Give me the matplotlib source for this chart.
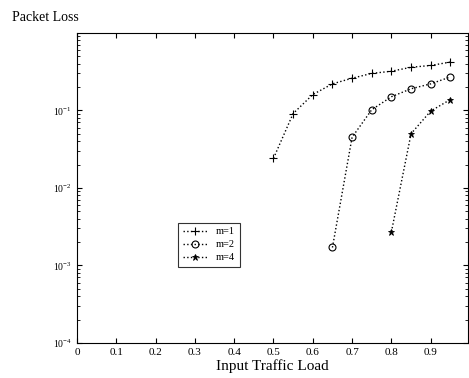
import matplotlib.pyplot as plt
import matplotlib.ticker as mticker

# data
load_m1 = [0.5, 0.55, 0.6, 0.65, 0.7, 0.75, 0.8, 0.85, 0.9, 0.95]
loss_m1 = [0.024, 0.091, 0.16, 0.22, 0.26, 0.30, 0.32, 0.36, 0.38, 0.42]

load_m2 = [0.65, 0.7, 0.75, 0.8, 0.85, 0.9, 0.95]
loss_m2 = [0.0017, 0.045, 0.102, 0.15, 0.19, 0.22, 0.27]

load_m4 = [0.8, 0.85, 0.9, 0.95]
loss_m4 = [0.0027, 0.050, 0.098, 0.138]

xticks = [0, 0.1, 0.2, 0.3, 0.4, 0.5, 0.6, 0.7, 0.8, 0.9]

plt.rcParams['font.family'] = ['Liberation Serif', 'DejaVu Serif']

fig = plt.figure(figsize=(4.69, 3.78), dpi=100)
ax = fig.add_axes([0.164, 0.093, 0.834, 0.82])

ax.semilogy(load_m1, loss_m1, ':', color='black', marker='+', ms=6, mew=0.8, lw=1, label='m=1')
ax.semilogy(load_m2, loss_m2, ':', color='black', marker='o', ms=5, mfc='none', mew=0.8, lw=1, label='m=2')
ax.semilogy(load_m4, loss_m4, ':', color='black', marker='*', ms=5, mew=0.6, lw=1, label='m=4')

ax.set_xlim(0, 0.995)
ax.set_ylim(1e-4, 1e0)
ax.set_xticks(xticks)
ax.set_xticklabels([f'{t:g}' for t in xticks], fontsize=8)
ax.set_yticks([1e-4, 1e-3, 1e-2, 1e-1])
ax.yaxis.set_major_formatter(mticker.LogFormatterSciNotation())
ax.yaxis.set_minor_locator(mticker.LogLocator(subs=range(2, 10)))
ax.yaxis.set_minor_formatter(mticker.NullFormatter())
ax.tick_params(which='both', direction='in', top=True, right=True, labelsize=7)
ax.tick_params(axis='x', labelsize=8)
for s in ax.spines.values():
    s.set_linewidth(0.8)

ax.set_xlabel('Input Traffic Load', fontsize=11, labelpad=2)
fig.text(0.025, 0.955, 'Packet Loss', fontsize=10, ha='left', va='center')

leg = ax.legend(loc='upper left', bbox_to_anchor=(0.245, 0.405), fontsize=7.5,
                frameon=True, fancybox=False, edgecolor='black', handlelength=2.4,
                borderpad=0.45, labelspacing=0.35)
leg.get_frame().set_linewidth(0.8)

fig.savefig('out.png', dpi=100)
